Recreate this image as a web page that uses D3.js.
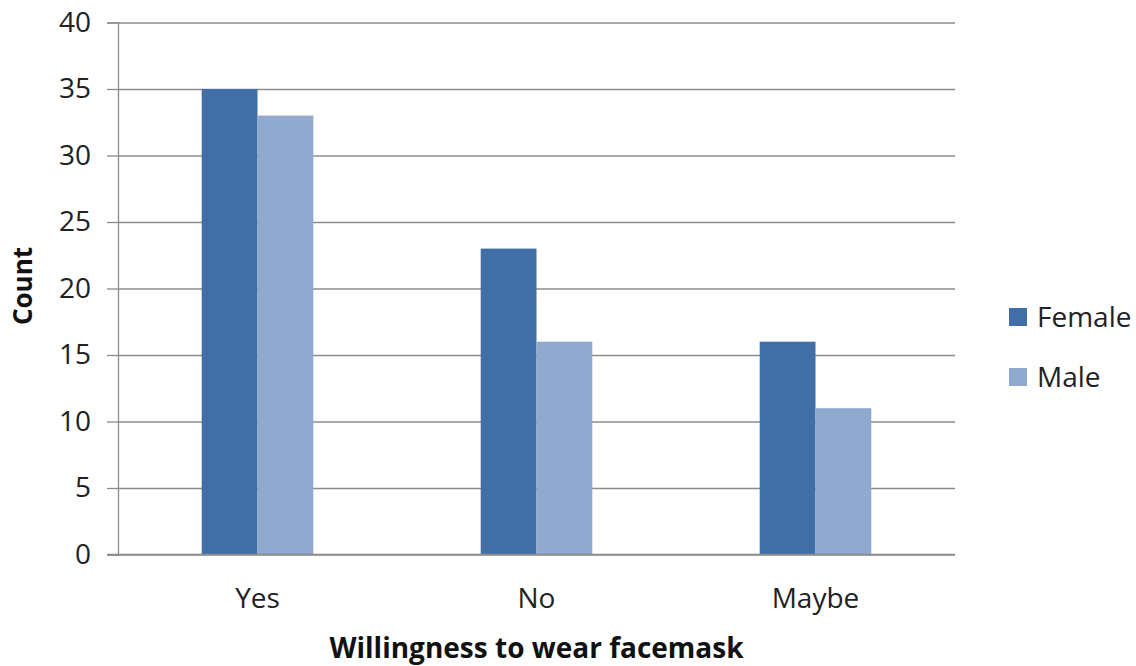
<!DOCTYPE html>
<html>
<head>
<meta charset="utf-8">
<script src="https://cdn.jsdelivr.net/npm/d3@7"></script>
<style>
  html, body { margin: 0; padding: 0; background: #fff; }
  svg { display: block; font-family: "Open Sans", "Liberation Sans", sans-serif; }
</style>
</head>
<body>
<svg id="chart" width="1136" height="666"></svg>
<script>
// Survey responses: willingness to wear a facemask, split by gender
const categories = ["Yes", "No", "Maybe"];
const seriesNames = ["Female", "Male"];
const femaleCounts = [35, 23, 16];
const maleCounts = [33, 16, 11];
const yTicks = [0, 5, 10, 15, 20, 25, 30, 35, 40];
const seriesColors = ["#416ea7", "#8fa9cf"];

const rows = categories.map((c, i) => ({
  category: c,
  values: [femaleCounts[i], maleCounts[i]]
}));

const svg = d3.select("#chart");
const plot = { left: 118, right: 955, top: 22.5, bottom: 554.5 };

const x = d3.scaleBand()
  .domain(categories)
  .range([plot.left, plot.right])
  .paddingInner(0.6)
  .paddingOuter(0.3);

const xInner = d3.scaleBand()
  .domain(seriesNames)
  .range([0, x.bandwidth()]);

const y = d3.scaleLinear()
  .domain([0, 40])
  .range([plot.bottom, plot.top]);

const color = d3.scaleOrdinal().domain(seriesNames).range(seriesColors);

// Horizontal gridlines with short tick stubs to the left of the axis
svg.append("g")
  .attr("transform", `translate(${plot.left},0)`)
  .call(d3.axisLeft(y).tickValues(yTicks).tickSize(-(plot.right - plot.left)).tickFormat(""))
  .call(g => g.select(".domain").remove())
  .call(g => g.selectAll(".tick line").attr("stroke", "#8c8c8c").attr("stroke-width", 1.3));

const yAxis = svg.append("g")
  .attr("transform", `translate(${plot.left},0)`)
  .call(d3.axisLeft(y).tickValues(yTicks).tickSize(11).tickPadding(16));
yAxis.select(".domain").attr("stroke", "#8c8c8c").attr("stroke-width", 1.3);
yAxis.selectAll(".tick line").attr("stroke", "#8c8c8c").attr("stroke-width", 1.3);
yAxis.selectAll(".tick text")
  .attr("font-size", 28)
  .attr("fill", "#222")
  .attr("font-family", "'Open Sans', sans-serif");

// Bars
const groups = svg.append("g").selectAll("g")
  .data(rows)
  .join("g")
  .attr("transform", d => `translate(${x(d.category)},0)`);

groups.selectAll("rect")
  .data(d => d.values.map((v, i) => ({ name: seriesNames[i], value: v })))
  .join("rect")
  .attr("x", d => xInner(d.name))
  .attr("y", d => y(d.value))
  .attr("width", xInner.bandwidth())
  .attr("height", d => y(0) - y(d.value))
  .attr("fill", d => color(d.name));

// Category axis
const xAxis = svg.append("g")
  .attr("transform", `translate(0,${plot.bottom})`)
  .call(d3.axisBottom(x).tickSize(0).tickPadding(34));
xAxis.select(".domain")
  .attr("d", `M${plot.left - 11},0H${plot.right}`)
  .attr("stroke", "#8c8c8c").attr("stroke-width", 1.3);
xAxis.selectAll(".tick text")
  .attr("font-size", 28)
  .attr("fill", "#222")
  .attr("font-family", "'Open Sans', sans-serif");

// Axis titles
svg.append("text")
  .attr("x", (plot.left + plot.right) / 2)
  .attr("y", 658)
  .attr("text-anchor", "middle")
  .attr("font-size", 28)
  .attr("font-weight", "bold")
  .attr("fill", "#111")
  .text("Willingness to wear facemask");

svg.append("text")
  .attr("transform", "translate(32,286) rotate(-90)")
  .attr("text-anchor", "middle")
  .attr("font-size", 26)
  .attr("font-weight", "bold")
  .attr("fill", "#111")
  .text("Count");

// Legend
const legend = svg.append("g")
  .attr("transform", "translate(1009,308)")
  .selectAll("g")
  .data(seriesNames)
  .join("g")
  .attr("transform", (d, i) => `translate(0,${i * 60})`);

legend.append("rect")
  .attr("width", 18)
  .attr("height", 18)
  .attr("fill", d => color(d));

legend.append("text")
  .attr("x", 28)
  .attr("y", 19)
  .attr("font-size", 28)
  .attr("fill", "#222")
  .text(d => d);
</script>
</body>
</html>
